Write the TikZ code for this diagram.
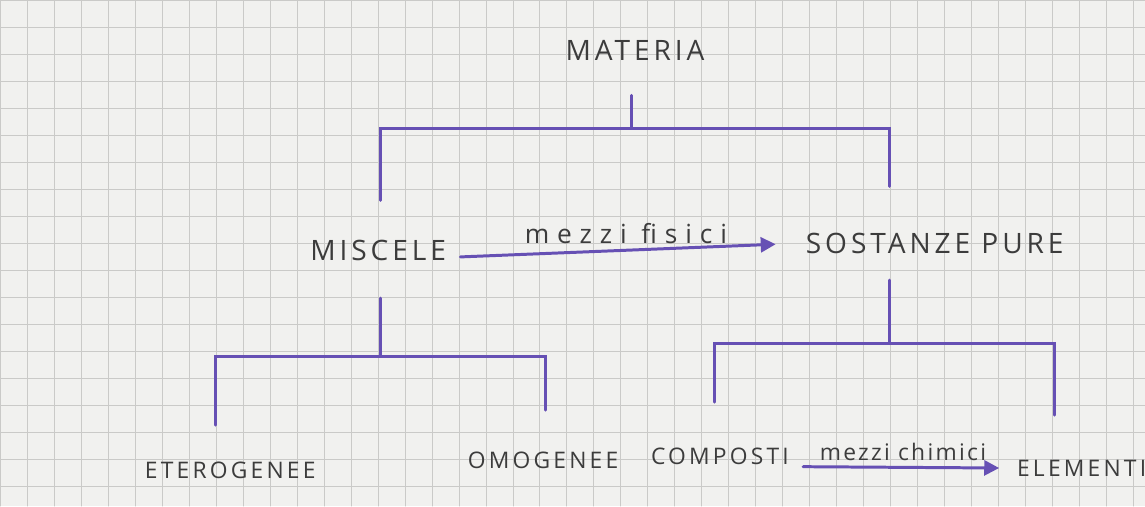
\documentclass[tikz,border=0pt]{standalone}
\usepackage{fontspec}
\setmainfont{Open Sans}
\newfontfamily\hand[LetterSpace=14]{Open Sans}
\newfontfamily\handwide[LetterSpace=30]{Open Sans}
\newfontfamily\handnarrow[LetterSpace=10]{Open Sans}
\usetikzlibrary{arrows.meta}
\definecolor{paper}{HTML}{F1F1EF}
\definecolor{gridgrey}{HTML}{CACAC8}
\definecolor{pen}{HTML}{6650B4}
\definecolor{ink}{HTML}{3C3C3C}

\begin{document}
\begin{tikzpicture}[x = 0.02cm, y = -0.02cm, line cap = round, every node/.style = {text = ink, inner sep = 3pt}, big/.style = {font = \hand\fontsize{16}{16}\selectfont}, small/.style = {font = \hand\fontsize{13}{13}\selectfont}, note/.style = {font = \handwide\fontsize{15}{15}\selectfont}, smallnote/.style = {font = \handnarrow\fontsize{13}{13}\selectfont}, branch/.style = {draw = pen, line width = 1.7pt}, via/.style = {branch, -{Triangle[length = 8.5pt, width = 8.5pt]}}]
    % squared paper
    \fill[paper] (0,0) rectangle (1145,506);
    \draw[gridgrey, line width = 0.5pt, step = 0.54cm] (0,506) grid (1145,0);
    \useasboundingbox (0,0) rectangle (1145,506);

    \node[big] (materia) at (635,50) {MATERIA};
    \node[big] (miscele) at (378,250) {MISCELE};
    \node[big] (sostanze) at (935,243) {SOSTANZE PURE};
    \node[small] (eterogenee) at (230,470) {ETEROGENEE};
    \node[small] (omogenee) at (543,460) {OMOGENEE};
    \node[small] (composti) at (720,456) {COMPOSTI};
    \node[small] (elementi) at (1082,468) {ELEMENTI};

    % first level
    \coordinate (materia-stem) at (632,95);
    \coordinate (materia-bar) at (632,128);
    \coordinate (miscele-top) at (380,200);
    \coordinate (sostanze-top) at (890,186);
    \draw[branch] (materia-stem) -- (materia-bar);
    \draw[branch] (miscele-top) |- (materia-bar) -| (sostanze-top);

    % miscele
    \coordinate (miscele-stem) at (380,298);
    \coordinate (miscele-bar) at (380,356);
    \coordinate (eterogenee-top) at (215,425);
    \coordinate (omogenee-top) at (545,410);
    \draw[branch] (miscele-stem) -- (miscele-bar);
    \draw[branch] (eterogenee-top) |- (miscele-bar) -| (omogenee-top);

    % sostanze pure
    \coordinate (sostanze-stem) at (890,280);
    \coordinate (sostanze-bar) at (890,343);
    \coordinate (composti-top) at (715,402);
    \coordinate (elementi-top) at (1055,415);
    \draw[branch] (sostanze-stem) -- (sostanze-bar);
    \draw[branch] (composti-top) |- (sostanze-bar) -| (elementi-top);

    % separations
    \draw[via, shorten <= 5pt, shorten >= 14pt] ([yshift = -4pt]miscele.east) -- (sostanze.west) node[note, midway, above = 0pt] {mezzi fisici};
    \draw[via, shorten <= 5pt, shorten >= 7pt] ([yshift = -6pt]composti.east) -- (elementi.west) node[smallnote, midway, above = 0pt] {mezzi chimici};
\end{tikzpicture}
\end{document}
